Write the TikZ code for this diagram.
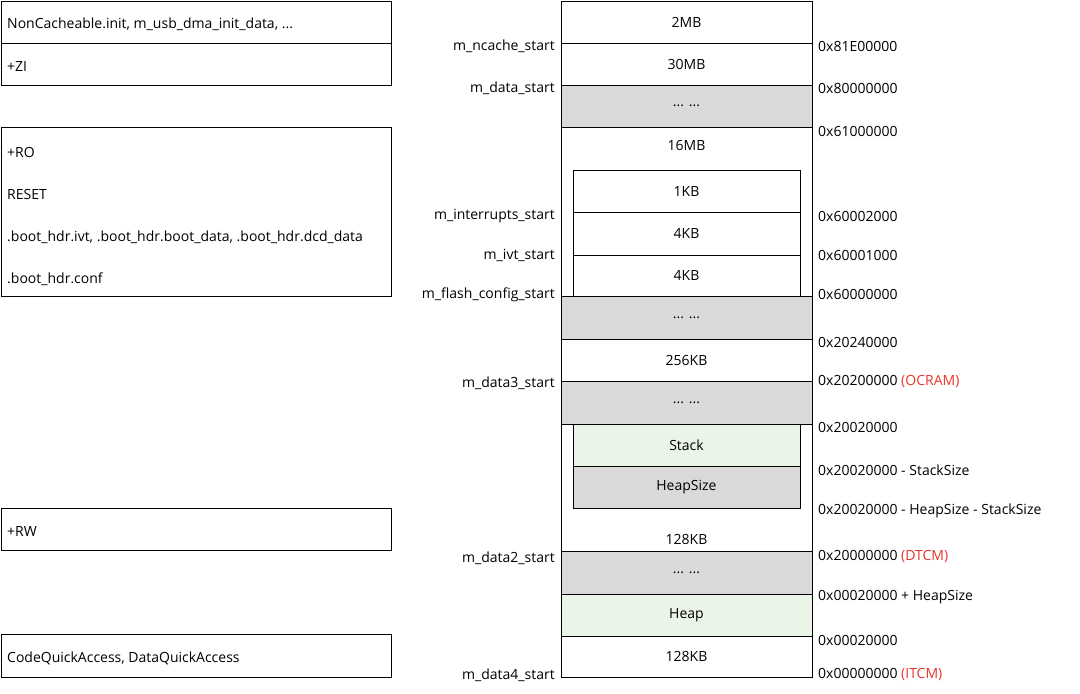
\documentclass[tikz,border=0pt]{standalone}
\usepackage{fontspec}
\setmainfont{Open Sans}
\definecolor{gr}{HTML}{D9D9D9}
\definecolor{gn}{HTML}{EAF5E8}
\definecolor{rd}{HTML}{E8342A}
\tikzset{x=1pt,y=-1pt,
 fnt/.style={font=\fontsize{14}{16}\selectfont},
 box/.style={draw,line width=0.7pt,inner sep=0pt,fnt},
 lt/.style={anchor=west,inner sep=0pt,fnt},
 ml/.style={anchor=east,inner sep=0pt,fnt},
 ad/.style={anchor=west,inner sep=0pt,fnt},
 tx/.style={fnt}}
\newcommand\band[6]{\node[box,fill=#4,minimum width=#6pt,minimum height={(#3-#2)*1pt}] (#1) at (686.5,{(#2+#3)/2}) {\raisebox{-1pt}{#5}};}
\newcommand\lbox[4]{\node[box,minimum width=390pt,minimum height={(#3-#2)*1pt}] (#1) at (196,{(#2+#3)/2}) {};}
\begin{document}
\begin{tikzpicture}
\useasboundingbox (0,0) rectangle (1080,694);
% left boxes
\lbox{l1}{1}{43}{} \node[lt] (l1t) at (7,24) {NonCacheable.init, m\_usb\_dma\_init\_data, ...};
\lbox{l2}{43}{85}{} \node[lt] (l2t) at (7,66) {+ZI};
\lbox{l3}{127}{296}{}
\node[lt] (l3a) at (7,152) {+RO};
\node[lt] (l3b) at (7,194) {RESET};
\node[lt] (l3c) at (7,237) {.boot\_hdr.ivt, .boot\_hdr.boot\_data, .boot\_hdr.dcd\_data};
\node[lt] (l3d) at (7,279) {.boot\_hdr.conf};
\lbox{l4}{508}{550}{} \node[lt] (l4t) at (7,531) {+RW};
\lbox{l5}{634}{677}{} \node[lt] (l5t) at (7,658) {CodeQuickAccess, DataQuickAccess};
% memory column
\node[box,minimum width=251pt,minimum height=676pt] (mem) at (686.5,339) {};
\band{b1}{1}{43}{white}{2MB}{251}
\band{b2}{43}{85}{white}{30MB}{251}
\band{b3}{85}{127}{gr}{... ...}{251}
\node[tx] (t16) at (686.5,145) {16MB};
\band{i1}{170}{212}{white}{1KB}{227}
\band{i2}{212}{255}{white}{4KB}{227}
\band{i3}{255}{296}{white}{4KB}{227}
\band{b4}{296}{339}{gr}{... ...}{251}
\band{b5}{339}{381}{white}{256KB}{251}
\band{b6}{381}{424}{gr}{... ...}{251}
\band{i4}{424}{466}{gn}{Stack}{227}
\band{i5}{466}{508}{gr}{HeapSize}{227}
\node[tx] (t128) at (686.5,539) {128KB};
\band{b7}{551}{594}{gr}{... ...}{251}
\band{b8}{594}{636}{gn}{Heap}{251}
\band{b9}{636}{677}{white}{128KB}{251}
% left labels
\node[ml] (m1) at (555,46) {m\_ncache\_start};
\node[ml] (m2) at (555,88) {m\_data\_start};
\node[ml] (m3) at (555,216) {m\_interrupts\_start};
\node[ml] (m4) at (555,255) {m\_ivt\_start};
\node[ml] (m5) at (555,295) {m\_flash\_config\_start};
\node[ml] (m6) at (555,383) {m\_data3\_start};
\node[ml] (m7) at (555,558) {m\_data2\_start};
\node[ml] (m8) at (555,675) {m\_data4\_start};
% addresses
\node[ad] (a1) at (818,46) {0x81E00000};
\node[ad] (a2) at (818,88) {0x80000000};
\node[ad] (a3) at (818,131) {0x61000000};
\node[ad] (a4) at (818,216) {0x60002000};
\node[ad] (a5) at (818,255) {0x60001000};
\node[ad] (a6) at (818,294) {0x60000000};
\node[ad] (a7) at (818,342) {0x20240000};
\node[ad] (a8) at (818,382) {0x20200000 \textcolor{rd}{(OCRAM)}};
\node[ad] (a9) at (818,427) {0x20020000};
\node[ad] (a10) at (818,470) {0x20020000 - StackSize};
\node[ad] (a11) at (818,511) {0x20020000 - HeapSize - StackSize};
\node[ad] (a12) at (818,557) {0x20000000 \textcolor{rd}{(DTCM)}};
\node[ad] (a13) at (818,597) {0x00020000 + HeapSize};
\node[ad] (a14) at (818,640) {0x00020000};
\node[ad] (a15) at (818,675) {0x00000000 \textcolor{rd}{(ITCM)}};
\end{tikzpicture}
\end{document}
